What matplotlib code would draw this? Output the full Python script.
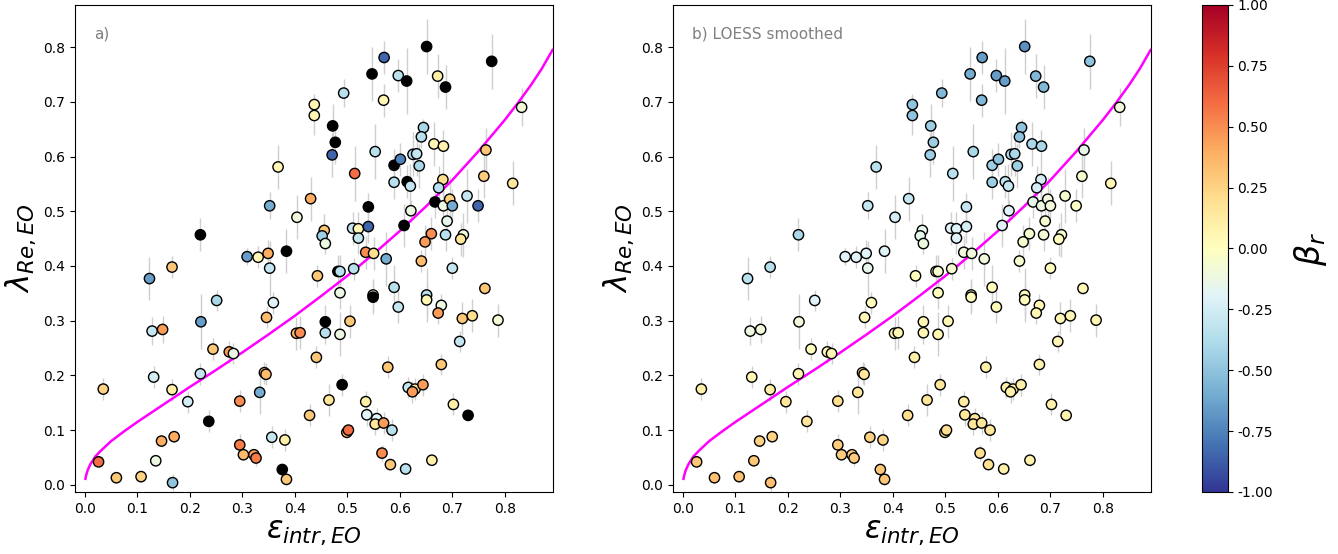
import numpy as np
import matplotlib
matplotlib.use('Agg')
import matplotlib.pyplot as plt
import matplotlib.colors as mcolors

nan = np.nan

# intrinsic ellipticity (edge-on)
eps = [0.220, 0.570, 0.547, 0.493, 0.569, 0.437, 0.437, 0.472, 0.477, 0.471,
       0.553, 0.368, 0.514, 0.589, 0.589, 0.352, 0.430, 0.404, 0.540, 0.456,
       0.452, 0.458, 0.510, 0.521, 0.521, 0.540,
       0.651, 0.775, 0.597, 0.613, 0.672, 0.687, 0.832, 0.645, 0.641, 0.665,
       0.683, 0.601, 0.625, 0.632, 0.637, 0.764, 0.614, 0.620, 0.682, 0.674,
       0.760, 0.815, 0.621, 0.667, 0.683, 0.695, 0.700, 0.728, 0.749, 0.690,
       0.608, 0.660, 0.648, 0.687, 0.721, 0.716,
       0.166, 0.123, 0.251, 0.128, 0.148, 0.221, 0.244, 0.275, 0.283, 0.131,
       0.220, 0.035, 0.166, 0.196, 0.236, 0.146, 0.170, 0.135, 0.026, 0.060,
       0.107, 0.167,
       0.309, 0.330, 0.349, 0.384, 0.352, 0.359, 0.346, 0.443, 0.482, 0.486,
       0.512, 0.535, 0.550, 0.574, 0.486, 0.549, 0.549, 0.589, 0.458, 0.458,
       0.486, 0.505, 0.403, 0.410, 0.441, 0.342, 0.345, 0.577, 0.333, 0.295,
       0.490, 0.465, 0.428, 0.535, 0.537, 0.556, 0.553, 0.569, 0.585, 0.499,
       0.502, 0.356, 0.381, 0.295, 0.302, 0.322, 0.326, 0.376, 0.384, 0.566,
       0.582,
       0.641, 0.700, 0.651, 0.651, 0.679, 0.673, 0.597, 0.762, 0.719, 0.738,
       0.787, 0.714, 0.679, 0.616, 0.629, 0.624, 0.644, 0.702, 0.730, 0.611,
       0.661]

# lambda_Re (edge-on)
lam = [0.457, 0.781, 0.751, 0.716, 0.703, 0.695, 0.675, 0.656, 0.626, 0.603,
       0.609, 0.581, 0.569, 0.584, 0.553, 0.510, 0.523, 0.489, 0.508, 0.465,
       0.455, 0.441, 0.469, 0.468, 0.451, 0.472,
       0.801, 0.774, 0.748, 0.738, 0.747, 0.727, 0.690, 0.653, 0.636, 0.623,
       0.619, 0.595, 0.604, 0.605, 0.583, 0.612, 0.554, 0.546, 0.558, 0.543,
       0.564, 0.551, 0.501, 0.517, 0.510, 0.522, 0.510, 0.528, 0.510, 0.482,
       0.474, 0.459, 0.444, 0.457, 0.457, 0.449,
       0.398, 0.377, 0.337, 0.281, 0.284, 0.298, 0.248, 0.243, 0.240, 0.197,
       0.203, 0.175, 0.174, 0.152, 0.116, 0.080, 0.088, 0.044, 0.042, 0.013,
       0.015, 0.004,
       0.417, 0.416, 0.423, 0.427, 0.396, 0.333, 0.306, 0.382, 0.390, 0.390,
       0.395, 0.425, 0.423, 0.413, 0.351, 0.347, 0.343, 0.361, 0.298, 0.278,
       0.275, 0.299, 0.277, 0.278, 0.233, 0.205, 0.202, 0.215, 0.169, 0.153,
       0.183, 0.155, 0.127, 0.152, 0.128, 0.121, 0.111, 0.113, 0.100, 0.096,
       0.100, 0.087, 0.082, 0.073, 0.055, 0.055, 0.049, 0.028, 0.010, 0.058,
       0.037,
       0.409, 0.396, 0.347, 0.338, 0.328, 0.314, 0.325, 0.359, 0.304, 0.309,
       0.301, 0.262, 0.220, 0.178, 0.175, 0.170, 0.183, 0.147, 0.127, 0.029,
       0.045]

lam_err = [0.03, 0.03, 0.05, 0.025, 0.03, 0.02, 0.035, 0.04, 0.04, 0.04,
           0.05, 0.04, 0.05, 0.03, 0.03, 0.025, 0.04, 0.04, 0.025, 0.03,
           0.02, 0.02, 0.03, 0.03, 0.03, 0.03,
           0.05, 0.05, 0.03, 0.06, 0.04, 0.04, 0.035, 0.015, 0.02, 0.04,
           0.03, 0.03, 0.04, 0.04, 0.04, 0.04, 0.03, 0.04, 0.03, 0.04,
           0.04, 0.04, 0.02, 0.03, 0.03, 0.04, 0.03, 0.05, 0.03, 0.03,
           0.04, 0.03, 0.03, 0.03, 0.04, 0.03,
           0.02, 0.04, 0.02, 0.025, 0.025, 0.05, 0.02, 0.02, 0.02, 0.02,
           0.02, 0.02, 0.02, 0.02, 0.02, 0.01, 0.01, 0.01, 0.01, 0.01,
           0.01, 0.015,
           0.015, 0.02, 0.025, 0.04, 0.05, 0.02, 0.02, 0.02, 0.03, 0.03,
           0.02, 0.03, 0.03, 0.05, 0.03, 0.03, 0.03, 0.04, 0.03, 0.02,
           0.04, 0.03, 0.03, 0.03, 0.02, 0.02, 0.02, 0.02, 0.04, 0.02,
           0.02, 0.03, 0.02, 0.02, 0.02, 0.02, 0.02, 0.02, 0.02, 0.01,
           0.01, 0.02, 0.02, 0.02, 0.01, 0.01, 0.015, 0.01, 0.01, 0.015,
           0.01,
           0.02, 0.02, 0.05, 0.03, 0.02, 0.02, 0.03, 0.01, 0.03, 0.03,
           0.03, 0.02, 0.02, 0.02, 0.02, 0.02, 0.02, 0.02, 0.01, 0.01,
           0.01]

# beta_r per galaxy (nan = not measured, drawn black)
beta = [nan, -0.85, nan, -0.35, 0.05, 0.05, 0.05, nan, nan, -0.85,
        -0.35, 0.05, 0.6, nan, -0.35, -0.6, 0.4, -0.1, nan, 0.3,
        -0.45, -0.12, -0.3, 0.05, -0.3, -0.85,
        nan, nan, -0.35, nan, 0.1, nan, -0.08, -0.4, -0.35, 0.05,
        0.08, -0.75, -0.35, -0.3, -0.4, 0.3, nan, -0.3, 0.2, -0.35,
        0.28, 0.15, -0.12, nan, -0.12, 0.25, -0.6, -0.3, -0.85, -0.15,
        nan, 0.5, 0.45, -0.35, -0.1, 0.15,
        0.3, -0.65, -0.4, -0.3, 0.45, -0.65, 0.3, 0.45, -0.12, -0.25,
        -0.3, 0.25, 0.1, -0.25, nan, 0.4, 0.4, -0.12, 0.6, 0.3,
        0.25, -0.5,
        -0.65, 0.05, 0.4, nan, -0.3, -0.2, 0.35, 0.3, nan, -0.35,
        -0.35, 0.5, 0.2, -0.6, -0.12, -0.1, nan, -0.35, nan, -0.35,
        -0.12, 0.3, 0.35, 0.5, 0.3, 0.3, 0.35, 0.3, -0.6, 0.5,
        nan, 0.15, 0.3, 0.1, -0.2, -0.2, 0.15, 0.45, -0.35, 0.35,
        0.6, -0.3, 0.1, 0.55, 0.35, 0.45, 0.55, nan, 0.3, 0.5,
        0.3,
        0.35, -0.3, -0.35, 0.05, -0.12, 0.45, -0.3, 0.3, 0.3, 0.2,
        -0.08, -0.3, 0.3, -0.3, 0.15, 0.45, 0.45, 0.1, nan, -0.35,
        0.1]

# LOESS smoothed beta_r
beta_loess = [-0.40, -0.65, -0.60, -0.55, -0.55, -0.50, -0.50, -0.45, -0.45, -0.45,
              -0.40, -0.35, -0.35, -0.45, -0.45, -0.30, -0.30, -0.25, -0.30, -0.15,
              -0.15, -0.12, -0.20, -0.20, -0.20, -0.25,
              -0.70, -0.50, -0.65, -0.65, -0.55, -0.55, -0.10, -0.50, -0.50, -0.40,
              -0.40, -0.50, -0.40, -0.40, -0.45, -0.15, -0.30, -0.30, -0.25, -0.25,
              -0.05, 0.05, -0.20, -0.15, -0.12, -0.10, -0.10, -0.05, -0.02, -0.05,
              -0.20, -0.05, -0.05, -0.08, -0.05, 0.00,
              -0.35, -0.35, -0.20, -0.12, -0.10, -0.10, 0.00, 0.05, 0.05, 0.05,
              0.05, 0.10, 0.10, 0.15, 0.15, 0.25, 0.25, 0.30, 0.30, 0.33,
              0.33, 0.33,
              -0.20, -0.20, -0.20, -0.20, -0.15, 0.00, 0.05, 0.00, -0.05, -0.05,
              -0.05, -0.10, -0.10, -0.10, 0.00, 0.00, 0.00, 0.00, 0.05, 0.05,
              0.05, 0.05, 0.05, 0.05, 0.10, 0.15, 0.15, 0.10, 0.15, 0.20,
              0.15, 0.15, 0.20, 0.12, 0.15, 0.15, 0.15, 0.15, 0.15, 0.20,
              0.20, 0.25, 0.25, 0.28, 0.28, 0.28, 0.28, 0.30, 0.30, 0.20,
              0.20,
              -0.05, 0.00, 0.00, 0.00, 0.05, 0.05, 0.03, 0.05, 0.05, 0.05,
              0.05, 0.05, 0.08, 0.10, 0.10, 0.10, 0.10, 0.08, 0.08, 0.10,
              0.08]

# magenta line (delta = 0.7 eps_intr, edge-on)
line_eps = [0.001, 0.002, 0.005, 0.01, 0.02, 0.03, 0.04, 0.05, 0.075, 0.1,
            0.125, 0.15, 0.2, 0.25, 0.3, 0.35, 0.4, 0.45, 0.5, 0.55, 0.6,
            0.65, 0.7, 0.75, 0.8, 0.825, 0.85, 0.87, 0.891]
line_lam = [0.011, 0.016, 0.026, 0.037, 0.052, 0.062, 0.071, 0.080, 0.098,
            0.115, 0.131, 0.147, 0.179, 0.210, 0.242, 0.275, 0.309, 0.345,
            0.382, 0.422, 0.464, 0.509, 0.557, 0.610, 0.667, 0.698, 0.731,
            0.760, 0.795]

cmap = plt.get_cmap('RdYlBu_r').copy()
cmap.set_bad('black')
norm = mcolors.Normalize(vmin=-1, vmax=1)

fig = plt.figure(figsize=(13.38, 5.54), dpi=100)
ax1 = fig.add_axes([0.056, 0.112, 0.357, 0.879])
ax2 = fig.add_axes([0.503, 0.112, 0.357, 0.879])
cax = fig.add_axes([0.898, 0.112, 0.0195, 0.879])

for ax, cvals, lbl in [(ax1, beta, 'a)'), (ax2, beta_loess, 'b) LOESS smoothed')]:
    ax.errorbar(eps, lam, yerr=lam_err, fmt='none', ecolor='#cfcfcf',
                elinewidth=1, capsize=0, zorder=1)
    sc = ax.scatter(eps, lam, c=np.ma.masked_invalid(cvals), cmap=cmap, norm=norm,
                    s=55, edgecolors='black', linewidths=1, zorder=3,
                    plotnonfinite=True)
    ax.plot(line_eps, line_lam, color='magenta', lw=1.8, zorder=2)
    ax.set_xlim(-0.019, 0.891)
    ax.set_ylim(-0.013, 0.877)
    ax.set_xticks(np.arange(0, 0.81, 0.1))
    ax.set_yticks(np.arange(0, 0.81, 0.1))
    ax.tick_params(labelsize=10)
    ax.set_xlabel(r'$\epsilon_{intr,EO}$', fontsize=22, labelpad=2)
    ax.set_ylabel(r'$\lambda_{Re,EO}$', fontsize=22, labelpad=4)
    ax.text(0.04, 0.955, lbl, transform=ax.transAxes, color='gray',
            fontsize=11, va='top')

cb = fig.colorbar(sc, cax=cax)
cb.set_ticks(np.arange(-1, 1.01, 0.25))
cb.ax.set_yticklabels(['%.2f' % t for t in np.arange(-1, 1.01, 0.25)])
cb.ax.tick_params(labelsize=10)
cb.set_label(r'$\beta_r$', fontsize=24, labelpad=14)

fig.savefig('out.png', dpi=100)
